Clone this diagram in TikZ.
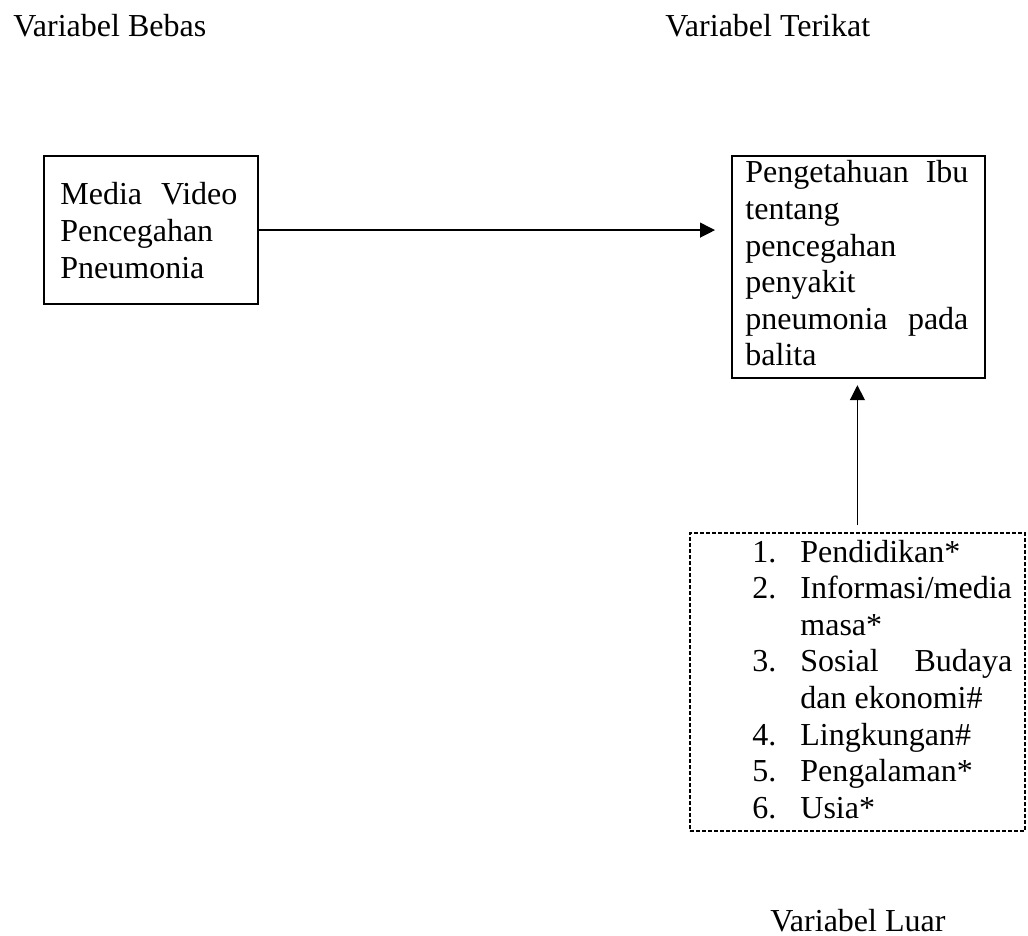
\documentclass[tikz,border=0pt]{standalone}
\usepackage{fontspec}
\setmainfont{Liberation Serif}
\usetikzlibrary{arrows.meta}
\tikzset{
  txt/.style={inner sep=0pt, anchor=base west, font=\fontsize{16}{18.3}\selectfont},
  boxs/.style={draw, line width=1.1pt, inner sep=0pt, anchor=north west},
  dbox/.style={draw, line width=0.9pt, dash pattern=on 2pt off 1pt, inner sep=0pt, anchor=north west},
  arr/.style={line width=0.6pt, -{Triangle[length=7.5pt,width=7.5pt]}}
}
\begin{document}
\begin{tikzpicture}[x=0.5pt,y=-0.5pt]
\useasboundingbox (0,0) rectangle (1028,936);
% titles
\node[txt] (tbebas) at (13,37) {Variabel Bebas};
\node[txt] (tterikat) at (665,37) {Variabel Terikat};
\node[txt] (tluar) at (770,931) {Variabel Luar};
% left box
\node[boxs, minimum width=107pt, minimum height=74pt] (lbox) at (43,155) {};
\node[txt] (ltext) at (60,205) {\parbox[t]{88.5pt}{\hyphenpenalty=10000\parindent=0pt
Media\hfill Video\\
Pencegahan\\
Pneumonia}};
% right box
\node[boxs, minimum width=126.5pt, minimum height=111pt] (rbox) at (731,155) {};
\node[txt] (rtext) at (745,183) {\parbox[t]{111.5pt}{\hyphenpenalty=10000\parindent=0pt
Pengetahuan\hfill Ibu\\
tentang\\
pencegahan\\
penyakit\\
pneumonia\hfill pada\\
balita}};
% dashed box
\node[dbox, minimum width=167.5pt, minimum height=149pt] (luar) at (689,532) {};
\node[txt] (luartext) at (752,562) {\parbox[t]{130pt}{\hyphenpenalty=10000\parindent=0pt
\makebox[24pt][l]{1.}Pendidikan*\\
\makebox[24pt][l]{2.}Informasi/media\\
\hspace*{24pt}masa*\\
\makebox[24pt][l]{3.}Sosial\hfill Budaya\\
\hspace*{24pt}dan ekonomi\#\\
\makebox[24pt][l]{4.}Lingkungan\#\\
\makebox[24pt][l]{5.}Pengalaman*\\
\makebox[24pt][l]{6.}Usia*}};
% connectors
\draw[arr, shorten >=8pt] (lbox.east) -- (lbox.east -| rbox.west);
\draw[arr, shorten <=3.5pt, shorten >=3pt] (luar.north) -- (luar.north |- rbox.south);
\end{tikzpicture}
\end{document}
